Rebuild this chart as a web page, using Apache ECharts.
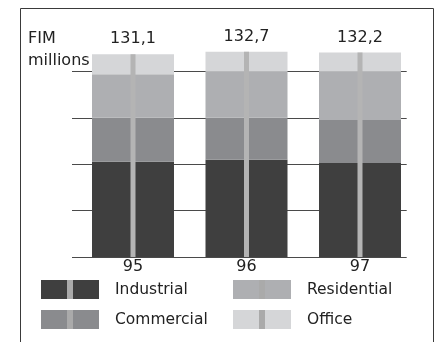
<!DOCTYPE html>
<html>
<head>
<meta charset="utf-8">
<style>
  html, body { margin: 0; padding: 0; background: #fff; }
  #chart { width: 441px; height: 342px; }
</style>
<script src="https://cdn.jsdelivr.net/npm/echarts@6/dist/echarts.min.js"></script>
</head>
<body>
<div id="chart"></div>
<script>
// Building stock by type, FIM millions
const years = ['95', '96', '97'];
const industrial  = [61.6, 62.9, 60.7];
const commercial  = [28.4, 27.1, 27.8];
const residential = [28.2, 29.7, 31.2];
const office      = [12.9, 13.0, 12.5];
const totals      = [131.1, 132.7, 132.2];
const gridTicks   = { min: 0, max: 120, interval: 30 };

const FONT = '"DejaVu Sans", sans-serif';
const TEXT = '#222';
const colors = {
  Industrial: '#3f3f3f',
  Commercial: '#8a8b8e',
  Residential: '#aeafb2',
  Office: '#d5d6d8'
};
const STRIPE = '#b4b4b4';

// Legend swatch: a filled block with a thin centre stripe, like the bars
function swatch(fill) {
  const svg = "<svg xmlns='http://www.w3.org/2000/svg' width='58' height='19'>" +
    "<rect width='58' height='19' fill='" + fill + "'/>" +
    "<rect x='26' y='0' width='6' height='19' fill='#aaaaaa'/></svg>";
  return 'image://data:image/svg+xml;charset=utf-8,' + encodeURIComponent(svg);
}

function legendBlock(left, names) {
  return {
    orient: 'vertical',
    left: left,
    top: 280,
    padding: 0,
    itemWidth: 58,
    itemHeight: 19,
    itemGap: 11,
    selectedMode: false,
    data: names.map(n => ({ name: n, icon: swatch(colors[n]) })),
    textStyle: {
      fontFamily: FONT, fontSize: 15.5, color: TEXT,
      lineHeight: 14, padding: [5, 0, 0, 11]
    }
  };
}

const chart = echarts.init(document.getElementById('chart'), null, { renderer: 'canvas' });

chart.setOption({
  animation: false,
  backgroundColor: '#fff',
  title: {
    text: 'FIM\nmillions',
    left: 28, top: 27.5, padding: 0,
    textStyle: { fontFamily: FONT, fontSize: 16, fontWeight: 'normal', color: TEXT, lineHeight: 22 }
  },
  legend: [
    legendBlock(41, ['Industrial', 'Commercial']),
    legendBlock(233, ['Residential', 'Office'])
  ],
  grid: [
    { left: 76.25, right: 24.25, top: 25, bottom: 85 },   // bars
    { left: 72, right: 34.3, top: 71.4, bottom: 85 }      // horizontal rules
  ],
  xAxis: [
    {
      type: 'category', gridIndex: 0, data: years,
      axisLine: { show: false }, axisTick: { show: false },
      axisLabel: { fontFamily: FONT, fontSize: 16, color: TEXT, margin: 2, lineHeight: 16 }
    },
    {
      type: 'category', gridIndex: 0, data: years, show: false
    },
    {
      type: 'category', gridIndex: 1, data: years, show: false
    }
  ],
  yAxis: [
    {
      type: 'value', gridIndex: 0, min: 0, max: 150, show: false,
      splitLine: { show: false }
    },
    {
      type: 'value', gridIndex: 1,
      min: gridTicks.min, max: gridTicks.max, interval: gridTicks.interval,
      axisLine: { show: false }, axisTick: { show: false }, axisLabel: { show: false },
      splitLine: { show: true, lineStyle: { color: '#4a4a4a', width: 1 } }
    }
  ],
  series: [
    { name: 'Industrial',  type: 'bar', stack: 'all', xAxisIndex: 0, yAxisIndex: 0, barWidth: 82, data: industrial,  itemStyle: { color: colors.Industrial },  z: 2 },
    { name: 'Commercial',  type: 'bar', stack: 'all', xAxisIndex: 0, yAxisIndex: 0, barWidth: 82, data: commercial,  itemStyle: { color: colors.Commercial },  z: 2 },
    { name: 'Residential', type: 'bar', stack: 'all', xAxisIndex: 0, yAxisIndex: 0, barWidth: 82, data: residential, itemStyle: { color: colors.Residential }, z: 2 },
    { name: 'Office',      type: 'bar', stack: 'all', xAxisIndex: 0, yAxisIndex: 0, barWidth: 82, data: office,      itemStyle: { color: colors.Office },      z: 2 },
    {
      name: 'total', type: 'bar', xAxisIndex: 1, yAxisIndex: 0, barWidth: 5,
      data: totals, itemStyle: { color: STRIPE }, z: 3,
      label: {
        show: true, position: 'top', distance: 7,
        fontFamily: FONT, fontSize: 16, color: TEXT, lineHeight: 16,
        formatter: p => p.value.toFixed(1).replace('.', ',')
      }
    }
  ],
  graphic: [
    {
      type: 'polyline', silent: true,
      shape: { points: [[20.5, 342], [20.5, 8.5], [433.5, 8.5], [433.5, 342]] },
      style: { stroke: '#3a3a3a', lineWidth: 1, fill: null }
    }
  ]
});
</script>
</body>
</html>
